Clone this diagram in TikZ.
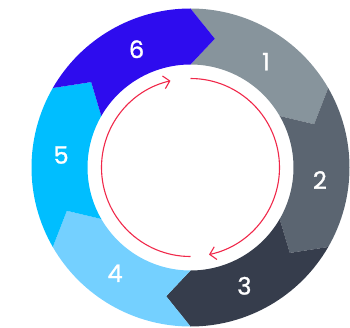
\documentclass[tikz,border=0pt]{standalone}
\usepackage{fontspec}
\setmainfont{Poppins}
\newfontfamily\numfont{Poppins}[FakeBold=1.2]
\usetikzlibrary{arrows.meta}
\definecolor{segA}{HTML}{87949C}
\definecolor{segB}{HTML}{5B6571}
\definecolor{segC}{HTML}{363D4C}
\definecolor{segD}{HTML}{74D0FF}
\definecolor{segE}{HTML}{00BEFF}
\definecolor{segF}{HTML}{2E0CEE}
\definecolor{cycred}{HTML}{F0284A}
\tikzset{
  numlabel/.style={text=white, font=\numfont\fontsize{24}{24}\selectfont, inner sep=0pt},
  cycarrow/.style={draw=cycred, line width=1.1pt, -{Straight Barb[length=6pt,width=13pt,line width=1.1pt]}}
}
\begin{document}
\begin{tikzpicture}[x=1pt,y=1pt]
\useasboundingbox (-190.5,-159.5) rectangle (159.5,167.5);
\def\Ro{159}\def\Ri{103}\def\Rm{131}\def\off{10.7}
\foreach \a/\col/\lab/\nm in {90/segA/1/one, 30/segB/2/two, -30/segC/3/three, -90/segD/4/four, -150/segE/5/five, 150/segF/6/six}{
  \pgfmathsetmacro\b{\a-60}
  \pgfmathsetmacro\bt{\a-60-\off}
  \pgfmathsetmacro\at{\a-\off}
  \pgfmathsetmacro\lm{\a-35.5}
  \fill[\col] (\a:\Ro) arc[start angle=\a, end angle=\b, radius=\Ro]
     -- (\bt:\Rm) -- (\b:\Ri) arc[start angle=\b, end angle=\a, radius=\Ri]
     -- (\at:\Rm) -- cycle;
  \node[numlabel] (\nm) at (\lm:130) {\lab};
}
\draw[cycarrow] (90:89) arc[start angle=90, end angle=-78, radius=89];
\draw[cycarrow] (-90:89) arc[start angle=-90, end angle=-257, radius=89];
\end{tikzpicture}
\end{document}
